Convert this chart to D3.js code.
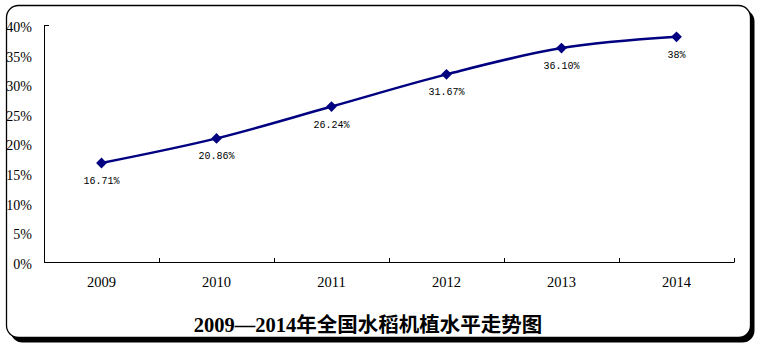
<!DOCTYPE html>
<html><head><meta charset="utf-8">
<script src="https://cdn.jsdelivr.net/npm/d3@7"></script>
<style>body{margin:0;background:#fff}svg{display:block}</style>
</head><body><svg id="c" width="761" height="348"></svg>
<script>
const years = ["2009","2010","2011","2012","2013","2014"];
const values = [16.71, 20.86, 26.24, 31.67, 36.10, 38];
const valueLabels = ["16.71%","20.86%","26.24%","31.67%","36.10%","38%"];
const yTicks = [0,5,10,15,20,25,30,35,40];
const title = "2009—2014年全国水稻机植水平走势图";

const svg = d3.select("#c");
// frame with shadow
svg.append("rect").attr("x",10.5).attr("y",9.5).attr("width",744).attr("height",333)
  .attr("rx",12).attr("fill","#000");
svg.append("rect").attr("x",6.5).attr("y",5.5).attr("width",744).attr("height",332)
  .attr("rx",12).attr("fill","#fff").attr("stroke","#000").attr("stroke-width",1.3);

const x = d3.scaleBand().domain(years).range([44,734]);
const y = d3.scaleLinear().domain([0,40]).range([262,25]);

// axes
const xAxis = d3.axisBottom(x).tickSize(0).tickPadding(15);
const gx = svg.append("g").attr("transform","translate(0,262)").call(xAxis);
gx.select(".domain").remove();
gx.selectAll("text").attr("font-family","'Liberation Serif',serif").attr("font-size",14.5).attr("fill","#000");
svg.append("line").attr("x1",44).attr("x2",734.5).attr("y1",262.5).attr("y2",262.5).attr("stroke","#000");
const bounds = years.map(d=>x(d)).concat([x.range()[1]]).slice(1);
svg.selectAll(".xt").data(bounds).join("line").attr("class","xt")
  .attr("x1",d=>Math.round(d)+0.5).attr("x2",d=>Math.round(d)+0.5).attr("y1",258).attr("y2",262)
  .attr("stroke","#000");

svg.append("line").attr("x1",44.5).attr("x2",44.5).attr("y1",25).attr("y2",263).attr("stroke","#000");
svg.append("line").attr("x1",44).attr("x2",49).attr("y1",25.5).attr("y2",25.5).attr("stroke","#000");
svg.selectAll(".yl").data(yTicks).join("text").attr("class","yl")
  .attr("x",32).attr("y",d=>y(d)+2).attr("dy","0.35em").attr("text-anchor","end")
  .attr("font-family","'Liberation Serif',serif").attr("font-size",14).attr("fill","#000")
  .text(d=>d+"%");

// line
const pts = years.map((d,i)=>[x(d)+x.bandwidth()/2, y(values[i])]);
svg.append("path").attr("d", d3.line().curve(d3.curveCatmullRom.alpha(0.5))(pts))
  .attr("fill","none").attr("stroke","#000080").attr("stroke-width",2.5);
svg.selectAll(".m").data(pts).join("path").attr("class","m")
  .attr("transform",d=>`translate(${d[0]},${d[1]}) rotate(45)`)
  .attr("d", d3.symbol(d3.symbolSquare, 58)()).attr("fill","#000080");
svg.selectAll(".vl").data(pts).join("text").attr("class","vl")
  .attr("x",d=>d[0]).attr("y",(d,i)=>d[1]+21).attr("text-anchor","middle")
  .attr("font-family","'Liberation Mono',monospace").attr("font-size",10).attr("fill","#000")
  .text((d,i)=>valueLabels[i]);

svg.append("text").attr("x",368).attr("y",332).attr("text-anchor","middle")
  .attr("font-family","'Liberation Serif','Noto Sans CJK SC',serif").attr("font-weight","bold")
  .attr("font-size",20.5).attr("fill","#000").text(title);
</script></body></html>
